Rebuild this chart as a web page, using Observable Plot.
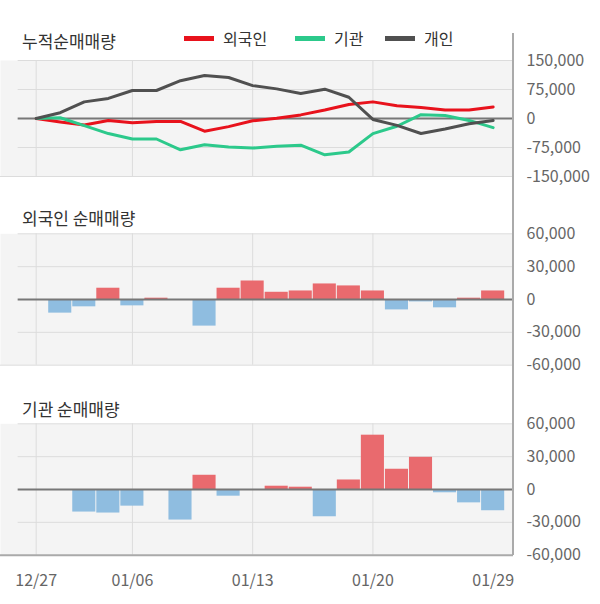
<!DOCTYPE html>
<html>
<head>
<meta charset="utf-8">
<script src="https://cdn.jsdelivr.net/npm/d3@7"></script>
<script src="https://cdn.jsdelivr.net/npm/@observablehq/plot@0.6"></script>
<style>
  html, body { margin: 0; padding: 0; background: #fff; }
  #root { position: relative; width: 600px; height: 604px; overflow: hidden; font-family: "Noto Sans CJK KR", "Noto Sans", sans-serif; }
  .panel { position: absolute; left: 0; }
  .title { position: absolute; left: 22px; font-size: 17px; line-height: 20px; color: #333; white-space: nowrap; }
  .leg { position: absolute; top: 28px; font-size: 16px; line-height: 20px; color: #333; white-space: nowrap; display: flex; align-items: center; }
  .sw { display: inline-block; width: 30px; height: 5px; margin-right: 9px; }
  .vline { position: absolute; left: 512px; top: 33px; width: 2px; height: 522px; background: #aaa; }
</style>
</head>
<body>
<div id="root"></div>
<script>
const dates = ["12/27","12/30","01/02","01/03","01/06","01/07","01/08","01/09","01/10","01/13","01/14","01/15","01/16","01/17","01/20","01/21","01/22","01/23","01/28","01/29"];
const dateTicks = ["12/27","01/06","01/13","01/20","01/29"];

// cumulative net buying
const foreignCum = [0,-9000,-16700,-5000,-11000,-8000,-7500,-32800,-21000,-5900,800,9300,21900,36000,43000,33000,28600,21900,22000,30000];
const instCum    = [0,2000,-18500,-39000,-53000,-53000,-81000,-68000,-74000,-76600,-72000,-69000,-94000,-86500,-39000,-20000,10000,7600,-5000,-23600];
const indivCum   = [0,15000,43000,52000,72500,72400,97700,111000,106000,85000,76600,64800,75800,55000,-2500,-17700,-38700,-27000,-13500,-5000];

// daily net buying
const foreignDaily = [0,-12450,-6700,10300,-5800,1200,0,-24300,10300,16900,6600,7800,14200,12400,7800,-9500,-2200,-7600,1200,7800];
const instDaily    = [0,0,-20600,-21500,-15200,0,-27900,13000,-6100,0,3000,2100,-24900,8700,49600,18500,29400,-3000,-12200,-19400];

const cumTicks = [-150000,-75000,0,75000,150000];
const dailyTicks = [-60000,-30000,0,30000,60000];

const seriesNames = ["외국인","기관","개인"];
const seriesColors = ["#e8121c","#2cc98b","#505050"];

const X0 = -1.484, X1 = 19.846, GX = -0.75;
const fmt = v => v.toLocaleString("en-US");
const gridIdx = dateTicks.slice(0, 4).map(t => dates.indexOf(t));

const rows = dates.map((d, i) => ({i, d}));
const cumData = [];
[foreignCum, instCum, indivCum].forEach((arr, k) => arr.forEach((v, i) => cumData.push({i, v, s: seriesNames[k]})));

function basePlot({height, mt, mb, ticks, marks, bottomStroke, bottomWidth, xAxis}) {
  const lo = ticks[0], hi = ticks[ticks.length - 1];
  const m = [
    Plot.frame({fill: "#f4f4f4", stroke: "none"}),
    Plot.ruleX(gridIdx, {stroke: "#dcdcdc", strokeWidth: 1}),
    Plot.ruleY(ticks.filter(t => t !== 0 && t !== lo), {x1: GX, x2: X1, stroke: "#dcdcdc", strokeWidth: 1}),
    Plot.ruleY([lo], {x1: X0, x2: X1, stroke: bottomStroke, strokeWidth: bottomWidth}),
    ...marks,
    Plot.axisY({anchor: "right", ticks, tickSize: 0, tickPadding: 13, tickFormat: fmt, color: "#666", label: null})
  ];
  if (xAxis) {
    m.push(Plot.axisX({ticks: dateTicks.map(t => dates.indexOf(t)), tickFormat: i => dates[i], tickSize: 0, tickPadding: 19, color: "#666", label: null}));
  }
  return Plot.plot({
    width: 600, height,
    marginLeft: 0, marginRight: 87, marginTop: mt, marginBottom: mb,
    x: {type: "linear", domain: [X0, X1], axis: null},
    y: {domain: [lo, hi], axis: null},
    color: {domain: seriesNames, range: seriesColors},
    style: {fontSize: "16px", fontFamily: "'Noto Sans CJK KR', 'Noto Sans', sans-serif", background: "transparent", overflow: "visible"},
    marks: m
  });
}

function barMarks(values) {
  const data = rows.map(r => ({i: r.i, v: values[r.i]})).filter(d => d.v !== 0);
  return [
    Plot.rectY(data, {x1: d => d.i - 0.48, x2: d => d.i + 0.48, y1: 0, y2: "v", fill: d => d.v > 0 ? "#e96a6e" : "#8fbde0"}),
    Plot.ruleY([0], {x1: GX, x2: X1, stroke: "#777", strokeWidth: 2})
  ];
}

const root = document.getElementById("root");

function place(el, top) {
  const wrap = document.createElement("div");
  wrap.className = "panel";
  wrap.style.top = top + "px";
  wrap.appendChild(el);
  root.appendChild(wrap);
}

// panel 1: cumulative lines
place(basePlot({
  height: 170, mt: 40, mb: 14, ticks: cumTicks,
  bottomStroke: "#dcdcdc", bottomWidth: 1,
  marks: [
    Plot.ruleY([0], {x1: GX, x2: X1, stroke: "#777", strokeWidth: 2}),
    Plot.line(cumData, {x: "i", y: "v", z: "s", stroke: "s", strokeWidth: 3})
  ]
}), 20);

// panel 2: foreign daily
place(basePlot({
  height: 180, mt: 33.3, mb: 15.3, ticks: dailyTicks,
  bottomStroke: "#dcdcdc", bottomWidth: 1,
  marks: barMarks(foreignDaily)
}), 200);

// panel 3: institution daily
place(basePlot({
  height: 214, mt: 33.3, mb: 49.3, ticks: dailyTicks,
  bottomStroke: "#aaa", bottomWidth: 2,
  marks: barMarks(instDaily), xAxis: true
}), 390);

// titles
[["누적순매매량", 30.7], ["외국인 순매매량", 208.3], ["기관 순매매량", 399]].forEach(([t, top]) => {
  const d = document.createElement("div");
  d.className = "title";
  d.style.top = top + "px";
  d.textContent = t;
  root.appendChild(d);
});

// legend
[[184, 0], [295, 1], [385, 2]].forEach(([left, k]) => {
  const d = document.createElement("div");
  d.className = "leg";
  d.style.left = left + "px";
  const sw = document.createElement("span");
  sw.className = "sw";
  sw.style.background = seriesColors[k];
  d.appendChild(sw);
  d.appendChild(document.createTextNode(seriesNames[k]));
  root.appendChild(d);
});

// right axis line
const vl = document.createElement("div");
vl.className = "vline";
root.appendChild(vl);
</script>
</body>
</html>
